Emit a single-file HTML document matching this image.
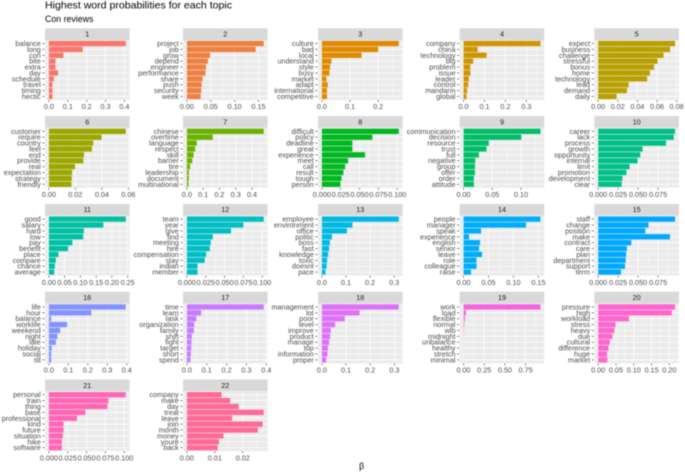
<!DOCTYPE html>
<html>
<head>
<meta charset="utf-8">
<title>Highest word probabilities for each topic</title>
<style>
html,body{margin:0;padding:0;background:#fff;}
body{width:685px;height:475px;overflow:hidden;}
svg{display:block;font-family:"Liberation Sans",sans-serif;filter:blur(0.45px);}
</style>
</head>
<body>
<svg id="chart" width="685" height="475" viewBox="0 0 685 475" xmlns="http://www.w3.org/2000/svg">
  <text x="45" y="8.7" font-size="10.55" fill="#000">Highest word probabilities for each topic</text>
  <text x="45" y="22" font-size="8.8" fill="#000">Con reviews</text>
  <text x="361.7" y="469" font-size="8.8" text-anchor="middle" fill="#000">β</text>
</svg>
<script>
const topic1Terms = ["balance","long","con","bite","extra","day","schedule","travel","timing","hectic"];
const topic1Beta = [0.407,0.179,0.077,0.035,0.035,0.049,0.026,0.019,0.019,0.019];
const topic1Ticks = ["0.0","0.1","0.2","0.3","0.4"];
const topic2Terms = ["project","job","grow","depend","engineer","performance","share","push","security","week"];
const topic2Beta = [0.161,0.144,0.049,0.044,0.040,0.039,0.033,0.031,0.030,0.029];
const topic2Ticks = ["0.00","0.05","0.10","0.15"];
const topic3Terms = ["culture","bad","local","understand","style","busy","market","adapt","international","competitive"];
const topic3Beta = [0.273,0.200,0.141,0.034,0.029,0.027,0.016,0.021,0.018,0.018];
const topic3Ticks = ["0.0","0.1","0.2"];
const topic4Terms = ["company","china","technology","big","problem","issue","leader","control","mandarin","global"];
const topic4Beta = [0.367,0.067,0.110,0.046,0.032,0.033,0.025,0.022,0.017,0.014];
const topic4Ticks = ["0.0","0.1","0.2","0.3"];
const topic5Terms = ["expect","business","challenge","stressful","bonus","home","technology","lead","demand","daily"];
const topic5Beta = [0.0784,0.0733,0.0666,0.0605,0.057,0.0527,0.050,0.0311,0.0294,0.0189];
const topic5Ticks = ["0.00","0.02","0.04","0.06","0.08"];
const topic6Terms = ["customer","require","country","feel","end","provide","real","expectation","strategy","friendly"];
const topic6Beta = [0.058,0.0398,0.0335,0.0325,0.0265,0.026,0.0198,0.0175,0.0173,0.017];
const topic6Ticks = ["0.00","0.02","0.04","0.06"];
const topic7Terms = ["chinese","overtime","language","respect","skill","barrier","tire","leadership","document","multinational"];
const topic7Beta = [0.472,0.159,0.061,0.051,0.041,0.033,0.020,0.012,0.012,0.010];
const topic7Ticks = ["0.0","0.1","0.2","0.3","0.4"];
const topic8Terms = ["difficult","policy","deadline","great","experience","meet","call","result","tough","person"];
const topic8Beta = [0.102,0.067,0.0405,0.0405,0.0573,0.0348,0.0308,0.0286,0.026,0.0247];
const topic8Ticks = ["0.000","0.025","0.050","0.075","0.100"];
const topic9Terms = ["communication","decision","resource","trust","full","negative","group","offer","order","attitude"];
const topic9Beta = [0.134,0.1006,0.044,0.040,0.0267,0.0203,0.0198,0.0198,0.018,0.018];
const topic9Ticks = ["0.00","0.05","0.10"];
const topic10Terms = ["career","lack","process","growth","opportunity","internal","limit","promotion","development","clear"];
const topic10Beta = [0.0963,0.0946,0.085,0.0556,0.0527,0.0494,0.0394,0.0353,0.0303,0.0295];
const topic10Ticks = ["0.000","0.025","0.050","0.075"];
const topic11Terms = ["good","salary","hard","low","pay","benefit","place","compare","chance","average"];
const topic11Beta = [0.244,0.173,0.111,0.109,0.0746,0.061,0.0305,0.022,0.019,0.017];
const topic11Ticks = ["0.00","0.05","0.10","0.15","0.20","0.25"];
const topic12Terms = ["team","year","give","find","meeting","hire","compensation","stay","indian","member"];
const topic12Beta = [0.102,0.075,0.0586,0.0344,0.0317,0.0304,0.0256,0.0238,0.0141,0.0141];
const topic12Ticks = ["0.000","0.025","0.050","0.075","0.100"];
const topic13Terms = ["employee","environment","office","politic","boss","fast","knowledge","toxic","doesnt","pace"];
const topic13Beta = [0.319,0.127,0.104,0.042,0.033,0.030,0.026,0.022,0.020,0.015];
const topic13Ticks = ["0.0","0.1","0.2","0.3"];
const topic14Terms = ["people","manager","speak","experience","english","senior","leave","role","colleague","raise"];
const topic14Beta = [0.154,0.125,0.035,0.011,0.033,0.031,0.037,0.026,0.026,0.015];
const topic14Ticks = ["0.00","0.05","0.10","0.15"];
const topic15Terms = ["staff","change","position","make","contract","care","plan","department","support","term"];
const topic15Beta = [0.0963,0.063,0.059,0.090,0.0415,0.036,0.035,0.0344,0.0336,0.0286];
const topic15Ticks = ["0.000","0.025","0.050","0.075"];
const topic16Terms = ["life","hour","balance","worklife","weekend","night","late","holiday","social","till"];
const topic16Beta = [0.395,0.218,0.012,0.094,0.058,0.044,0.036,0.015,0.012,0.012];
const topic16Ticks = ["0.0","0.1","0.2","0.3","0.4"];
const topic17Terms = ["time","learn","task","organization","family","shift","fight","target","short","spend"];
const topic17Beta = [0.387,0.072,0.048,0.037,0.035,0.025,0.023,0.022,0.020,0.018];
const topic17Ticks = ["0.0","0.1","0.2","0.3","0.4"];
const topic18Terms = ["management","lot","poor","level","improve","product","manage","top","information","proper"];
const topic18Beta = [0.318,0.156,0.095,0.055,0.037,0.034,0.030,0.025,0.023,0.018];
const topic18Ticks = ["0.0","0.1","0.2","0.3"];
const topic19Terms = ["work","load","flexible","normal","wlb","midnight","unbalance","healthy","stretch","minimal"];
const topic19Beta = [0.93,0.028,0.016,0.008,0.004,0.002,0.002,0.002,0.001,0.001];
const topic19Ticks = ["0.00","0.25","0.50","0.75"];
const topic20Terms = ["pressure","high","workload","stress","heavy","due","cultural","difference","huge","market"];
const topic20Beta = [0.216,0.207,0.0865,0.049,0.0456,0.040,0.0326,0.029,0.025,0.026];
const topic20Ticks = ["0.00","0.05","0.10","0.15","0.20"];
const topic21Terms = ["personal","train","thing","base","professional","kind","future","situation","hike","software"];
const topic21Beta = [0.102,0.079,0.0775,0.0485,0.0374,0.0194,0.0194,0.0185,0.0172,0.0172];
const topic21Ticks = ["0.000","0.025","0.050","0.075","0.100"];
const topic22Terms = ["company","make","day","treat","leave","join","month","money","youre","back"];
const topic22Beta = [0.0124,0.0155,0.0185,0.0275,0.0162,0.0271,0.0254,0.0131,0.0115,0.011];
const topic22Ticks = ["0.00","0.01","0.02"];

const topicTerms = [topic1Terms,topic2Terms,topic3Terms,topic4Terms,topic5Terms,topic6Terms,topic7Terms,topic8Terms,topic9Terms,topic10Terms,topic11Terms,topic12Terms,topic13Terms,topic14Terms,topic15Terms,topic16Terms,topic17Terms,topic18Terms,topic19Terms,topic20Terms,topic21Terms,topic22Terms];
const topicBetas = [topic1Beta,topic2Beta,topic3Beta,topic4Beta,topic5Beta,topic6Beta,topic7Beta,topic8Beta,topic9Beta,topic10Beta,topic11Beta,topic12Beta,topic13Beta,topic14Beta,topic15Beta,topic16Beta,topic17Beta,topic18Beta,topic19Beta,topic20Beta,topic21Beta,topic22Beta];
const topicTicks = [topic1Ticks,topic2Ticks,topic3Ticks,topic4Ticks,topic5Ticks,topic6Ticks,topic7Ticks,topic8Ticks,topic9Ticks,topic10Ticks,topic11Ticks,topic12Ticks,topic13Ticks,topic14Ticks,topic15Ticks,topic16Ticks,topic17Ticks,topic18Ticks,topic19Ticks,topic20Ticks,topic21Ticks,topic22Ticks];

const fillColors = ["#F8766D","#EE8042","#E18A00","#CF9400","#B8A000","#9CA700","#6BB100","#00B81F","#00BE67","#00C087","#00C1A3","#00BFC4","#00B9E3","#00ADFA","#00A9FF","#8494FF","#C77CFF","#DE71F9","#F763E0","#FF65CF","#FF66B5","#FF6A98"];
const colLeft = [45,183,318,459.7,594.3];
const panelW = 84.6, panelH = 60, stripH = 11.7, rowTop = 28.3, rowStep = 87.8;

const svg = document.getElementById('chart');
const NS = 'http://www.w3.org/2000/svg';
function mk(parent, tag, attrs, text) {
  const el = document.createElementNS(NS, tag);
  for (const k in attrs) el.setAttribute(k, attrs[k]);
  if (text !== undefined) el.textContent = text;
  parent.appendChild(el);
  return el;
}
topicTerms.forEach(function (terms, t) {
  const betas = topicBetas[t];
  const ticks = topicTicks[t];
  const left = colLeft[t % 5];
  const top = rowTop + rowStep * Math.floor(t / 5);
  const panelTop = top + stripH;
  const panelBottom = panelTop + panelH;
  const maxBeta = Math.max.apply(null, betas);
  const innerW = panelW / 1.1;
  const x0 = left + panelW * (0.05 / 1.1);
  const xScale = function (v) { return x0 + v / maxBeta * innerW; };
  const band = panelH / (terms.length - 1 + 1.2);
  const yScale = function (i) { return panelTop + band * (0.6 + i); };

  const g = mk(svg, 'g', {});
  
  

  const strip = mk(g, 'rect', {x: left, y: top, width: panelW, height: stripH, fill: '#D9D9D9'});
  
  
  const stripLabel = mk(g, 'text', {x: left + panelW / 2, y: top + 8.3, 'font-size': 7.2, 'text-anchor': 'middle', fill: '#1A1A1A'}, String(t + 1));
  
  

  const bg = mk(g, 'rect', {x: left, y: panelTop, width: panelW, height: panelH, fill: '#EBEBEB'});
  
  

  const tickValues = ticks.map(parseFloat);
  const step = tickValues[1] - tickValues[0];
  for (let k = -1; k < tickValues.length + 3; k++) {
    const mx = xScale(tickValues[0] + step * (k + 0.5));
    if (mx < left || mx > left + panelW) continue;
    const minor = mk(g, 'line', {x1: mx, x2: mx, y1: panelTop, y2: panelBottom, stroke: '#FFF', 'stroke-width': 0.35});
    
    
  }
  ticks.forEach(function (label, i) {
    const x = xScale(tickValues[i]);
    const grid = mk(g, 'line', {x1: x, x2: x, y1: panelTop, y2: panelBottom, stroke: '#FFF', 'stroke-width': 0.7});
    
    
    const tick = mk(g, 'line', {x1: x, x2: x, y1: panelBottom, y2: panelBottom + 2, stroke: '#333', 'stroke-width': 0.6});
    
    
    const tl = mk(g, 'text', {x: x, y: panelBottom + 9.2, 'font-size': 7.25, 'text-anchor': 'middle', fill: '#4D4D4D'}, label);
    
    
  });
  terms.forEach(function (term, i) {
    const y = yScale(i);
    const grid = mk(g, 'line', {x1: left, x2: left + panelW, y1: y, y2: y, stroke: '#FFF', 'stroke-width': 0.7});
    
    
    const bar = mk(g, 'rect', {x: x0, y: y - band * 0.45, width: Math.max(0, xScale(betas[i]) - x0), height: band * 0.9, fill: fillColors[t]});
    
    
    const tick = mk(g, 'line', {x1: left - 2.6, x2: left - 0.4, y1: y, y2: y, stroke: '#333', 'stroke-width': 0.6});
    
    
    const label = mk(g, 'text', {x: left - 4.2, y: y + 2.5, 'font-size': 7.25, 'text-anchor': 'end', fill: '#4D4D4D'}, term);
    
    
  });
});
</script>
</body>
</html>
